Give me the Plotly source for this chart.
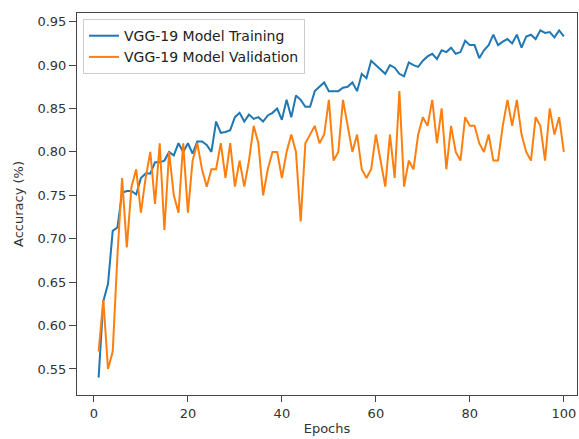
import plotly.graph_objects as go

epochs = list(range(1, 101))

train_acc = [
    0.540, 0.628, 0.648, 0.709, 0.713, 0.753, 0.755, 0.755, 0.751, 0.770,
    0.775, 0.775, 0.788, 0.788, 0.790, 0.800, 0.796, 0.810, 0.800, 0.810,
    0.798, 0.812, 0.812, 0.808, 0.800, 0.835, 0.822, 0.823, 0.825, 0.840,
    0.845, 0.835, 0.843, 0.838, 0.840, 0.835, 0.842, 0.845, 0.850, 0.837,
    0.860, 0.840, 0.865, 0.860, 0.852, 0.852, 0.870, 0.875, 0.880, 0.870,
    0.870, 0.870, 0.874, 0.875, 0.880, 0.870, 0.890, 0.885, 0.905, 0.900,
    0.894, 0.890, 0.900, 0.897, 0.890, 0.887, 0.903, 0.900, 0.898, 0.905,
    0.910, 0.913, 0.907, 0.917, 0.915, 0.920, 0.913, 0.915, 0.928, 0.923,
    0.923, 0.908, 0.917, 0.923, 0.935, 0.923, 0.927, 0.930, 0.925, 0.935,
    0.920, 0.933, 0.935, 0.930, 0.940, 0.937, 0.938, 0.932, 0.940, 0.933,
]

val_acc = [
    0.57, 0.63, 0.55, 0.57, 0.68, 0.77, 0.69, 0.76, 0.78, 0.73,
    0.77, 0.80, 0.74, 0.81, 0.71, 0.80, 0.75, 0.73, 0.81, 0.73,
    0.79, 0.81, 0.78, 0.76, 0.78, 0.78, 0.81, 0.77, 0.81, 0.76,
    0.79, 0.76, 0.79, 0.83, 0.81, 0.75, 0.78, 0.80, 0.80, 0.77,
    0.80, 0.82, 0.80, 0.72, 0.81, 0.82, 0.83, 0.81, 0.82, 0.86,
    0.79, 0.80, 0.86, 0.83, 0.80, 0.82, 0.78, 0.77, 0.78, 0.82,
    0.79, 0.76, 0.82, 0.77, 0.87, 0.76, 0.79, 0.78, 0.82, 0.84,
    0.83, 0.86, 0.81, 0.85, 0.78, 0.83, 0.80, 0.79, 0.84, 0.83,
    0.83, 0.81, 0.80, 0.82, 0.79, 0.79, 0.83, 0.86, 0.83, 0.86,
    0.82, 0.80, 0.79, 0.84, 0.83, 0.79, 0.85, 0.82, 0.84, 0.80,
]

x_ticks = [0, 20, 40, 60, 80, 100]
y_ticks = [0.55, 0.60, 0.65, 0.70, 0.75, 0.80, 0.85, 0.90, 0.95]

fig = go.Figure()
fig.add_trace(go.Scatter(x=epochs, y=train_acc, mode="lines",
                         name="VGG-19 Model Training",
                         line=dict(color="#1f77b4", width=2)))
fig.add_trace(go.Scatter(x=epochs, y=val_acc, mode="lines",
                         name="VGG-19 Model Validation",
                         line=dict(color="#ff7f0e", width=2)))

tick_font = dict(family="DejaVu Sans", size=13, color="#333333")
title_font = dict(family="DejaVu Sans", size=13, color="#333333")

fig.update_layout(
    width=579, height=439,
    margin=dict(l=77, r=2, t=13, b=44),
    paper_bgcolor="white", plot_bgcolor="white",
    font=dict(family="DejaVu Sans", size=13, color="#333333"),
    showlegend=True,
    legend=dict(x=0.012, y=0.984, xanchor="left", yanchor="top",
                bgcolor="rgba(255,255,255,0.8)", bordercolor="#cccccc",
                borderwidth=1, font=dict(family="DejaVu Sans", size=14, color="#222222"),
                tracegroupgap=2),
    xaxis=dict(range=[-3.6, 102.8], tickvals=x_ticks, ticks="outside", ticklen=6,
               tickcolor="#444444", showgrid=False, zeroline=False,
               showline=True, mirror=True, linecolor="#444444", linewidth=1,
               tickfont=tick_font,
               title=dict(text="Epochs", font=title_font, standoff=4)),
    yaxis=dict(range=[0.52, 0.96], tickvals=y_ticks, tickformat=".2f",
               ticks="outside", ticklen=7, tickcolor="#444444",
               showgrid=False, zeroline=False,
               showline=True, mirror=True, linecolor="#444444", linewidth=1,
               tickfont=tick_font,
               title=dict(text="Accuracy (%)", font=title_font, standoff=10)),
)

fig.write_html("out.html", config={"displayModeBar": False},
               post_script="document.body.style.margin='0px';document.body.style.overflow='hidden';")
